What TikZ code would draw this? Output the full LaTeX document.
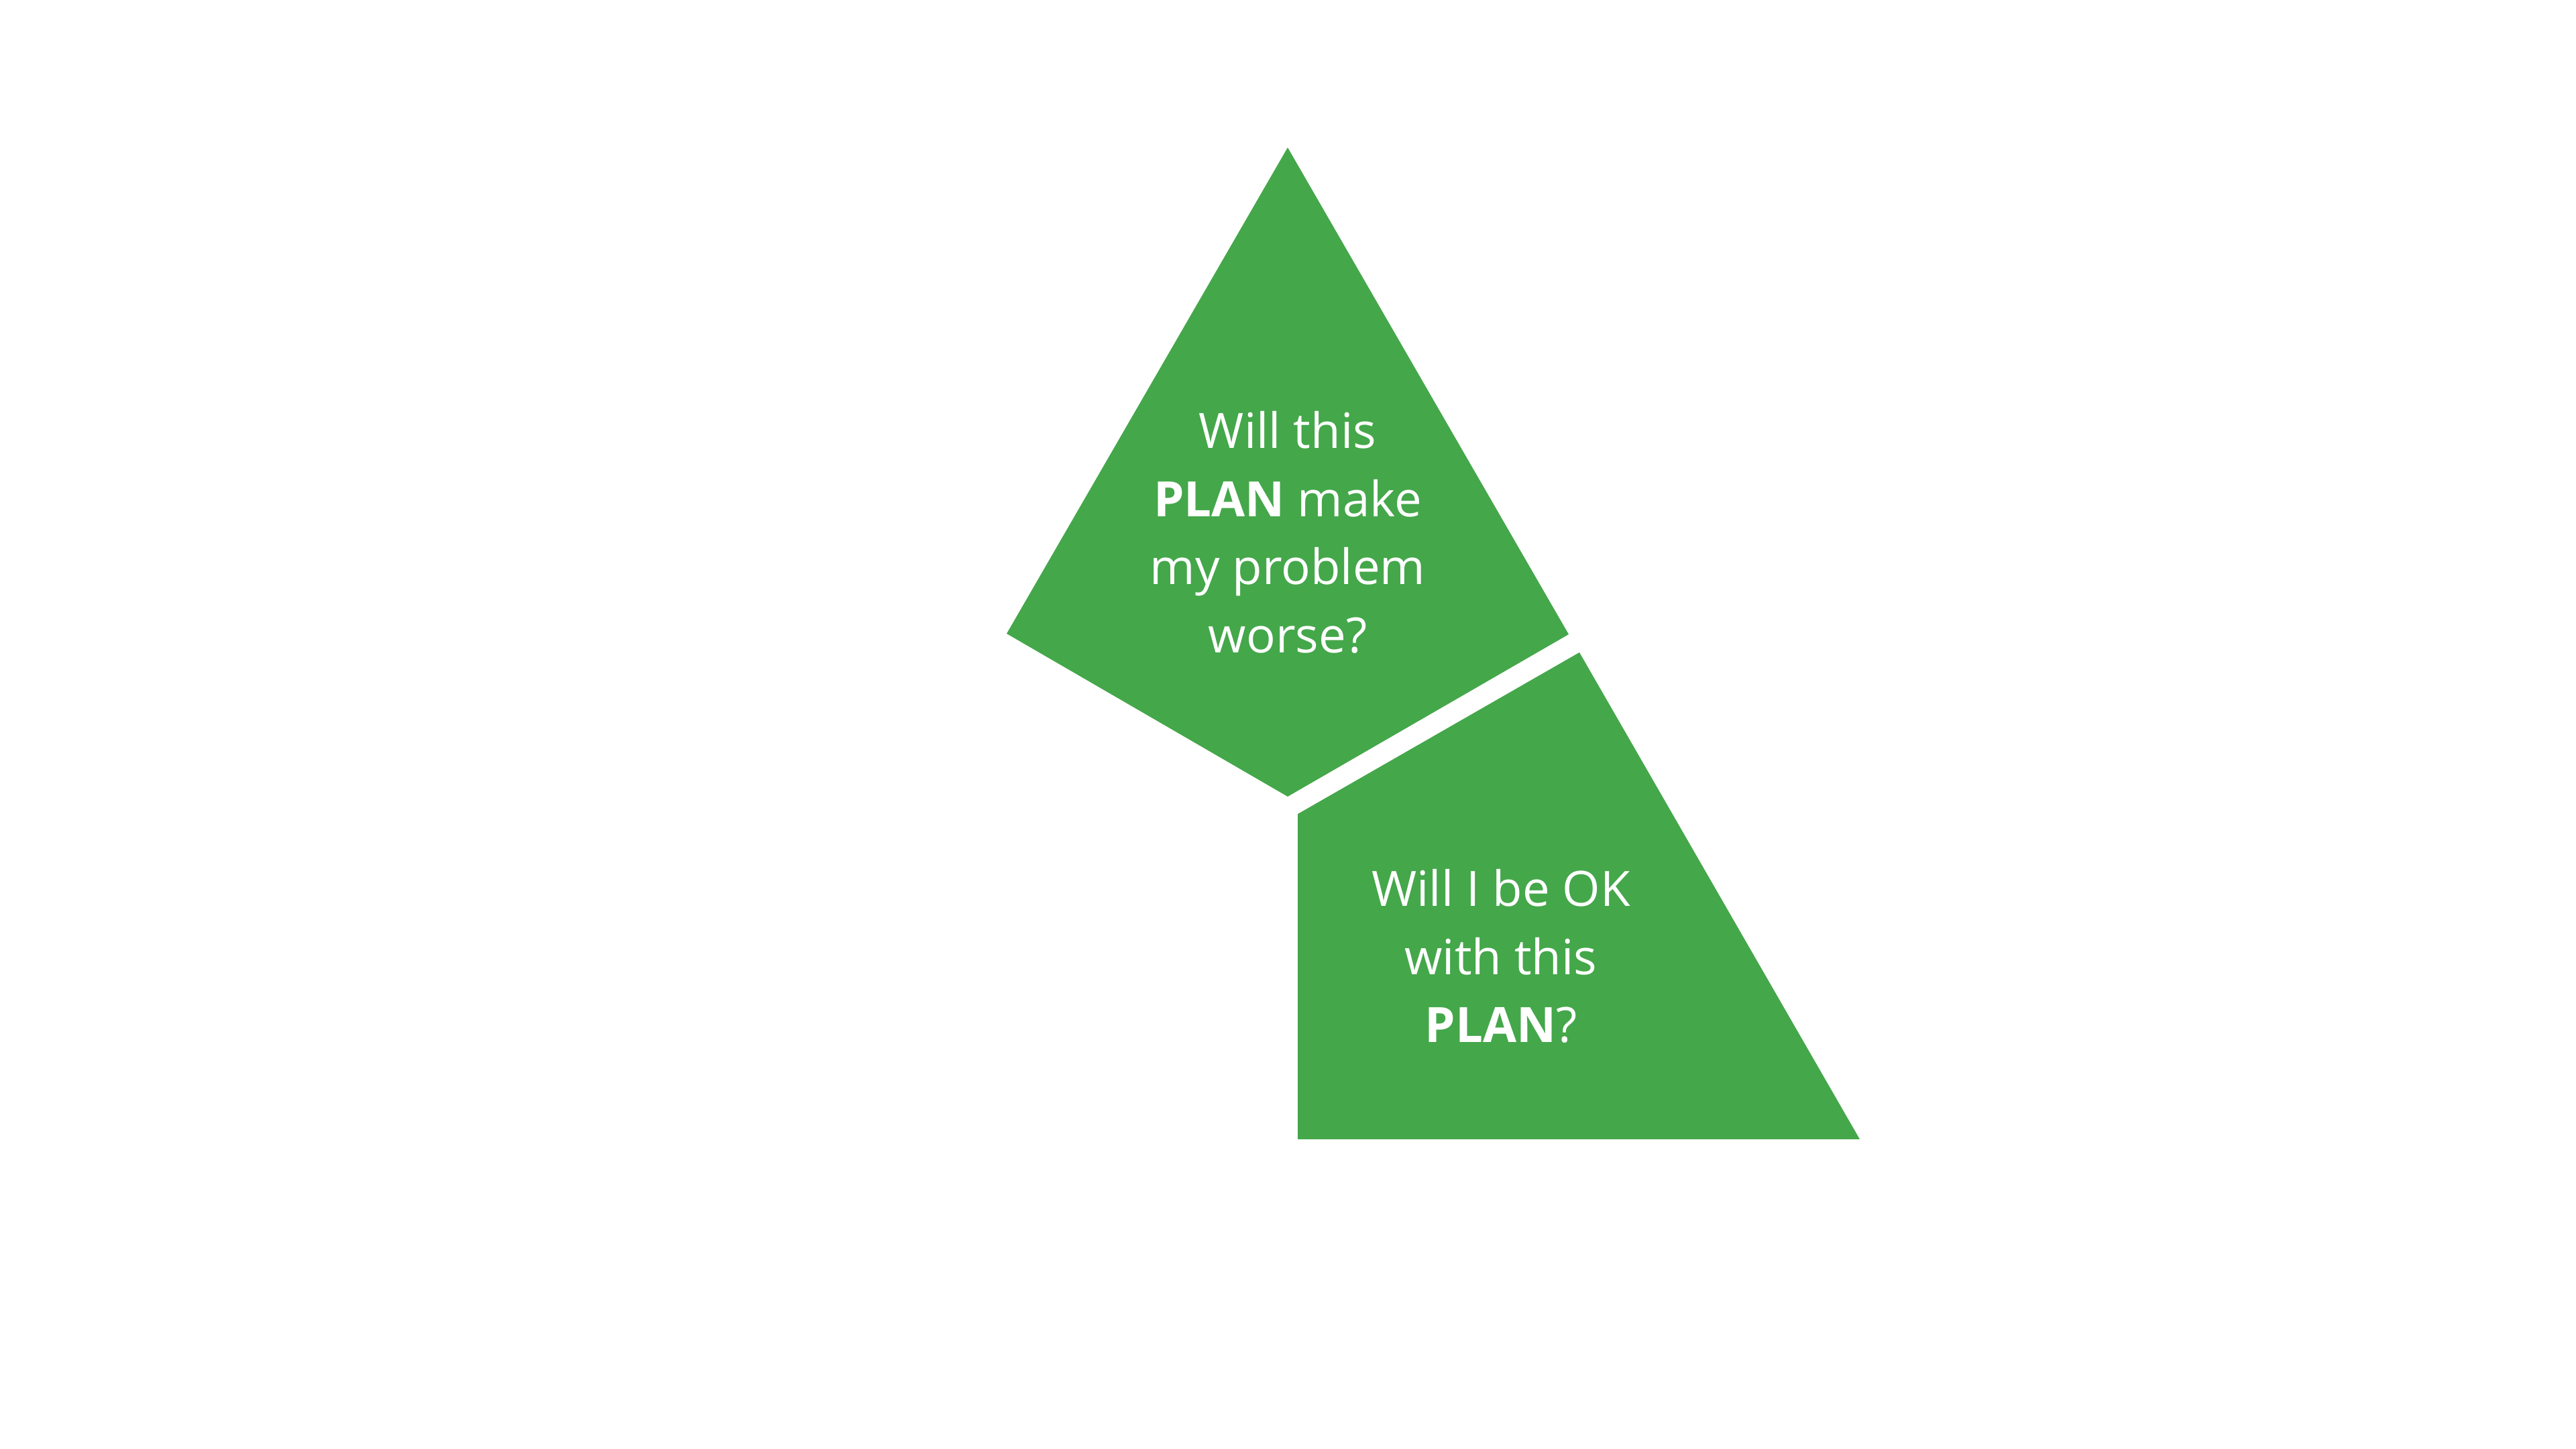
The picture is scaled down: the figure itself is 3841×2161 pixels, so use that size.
\documentclass[tikz,border=0pt]{standalone}
\usepackage{fontspec}
\setmainfont{Open Sans}
\usetikzlibrary{positioning}
\definecolor{plangreen}{RGB}{68,167,74}
\tikzset{
  piece/.style={
      fill=plangreen,
      draw=none
  },
  question/.style={
      text=white,
      align=center,
      inner sep=0pt,
      font=\fontsize{20.65pt}{28.9pt}\selectfont
  }
}

\begin{document}
\begin{tikzpicture}[x=0.01cm,y=-0.01cm]
    \useasboundingbox (0,0) rectangle (3841,2161);
    % upper piece and lower piece
    \fill[piece] (1920,220) -- (2339,946) -- (1920,1188) -- (1501,945) -- cycle;
    \fill[piece] (1935,1214) -- (2355,973) -- (2773,1699) -- (1935,1699) -- cycle;
    \node[question] (worse) at (1920,794) {Will this\\\textbf{PLAN} make\\my problem\\worse?};
    \node[question] (okay) at (2238,1426) {Will I be OK\\with this\\\textbf{PLAN}?};
\end{tikzpicture}
\end{document}
